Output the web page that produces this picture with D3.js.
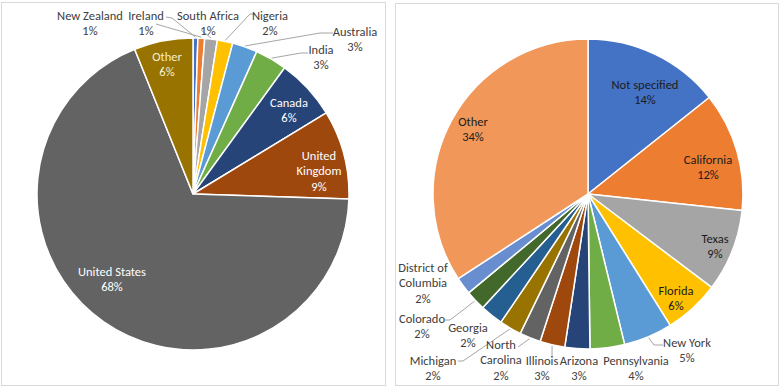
<!DOCTYPE html>
<html>
<head>
<meta charset="utf-8">
<script src="https://cdn.jsdelivr.net/npm/d3@7"></script>
<style>
  body { margin: 0; background: #fff; }
  svg { display: block; font-family: Carlito, Lato, "Open Sans", sans-serif; }
</style>
</head>
<body>
<svg id="chart" width="780" height="387"></svg>
<script>
//---DATA (share of respondents, %)
var country_names = ['New Zealand', 'Ireland', 'South Africa', 'Nigeria', 'Australia',
  'India', 'Canada', 'United\nKingdom', 'United States', 'Other'];
var country_values = [0.5, 0.7, 1.3, 1.6, 2.6, 3.3, 6.3, 9.2, 68.4, 6.1];

var state_names = ['Not specified', 'California', 'Texas', 'Florida', 'New York',
  'Pennsylvania', 'Arizona', 'Illinois', 'North\nCarolina', 'Michigan', 'Georgia',
  'Colorado', 'District of\nColumbia', 'Other'];
var state_values = [14.3, 12.4, 8.6, 5.8, 5.1, 3.6, 2.6, 2.6, 2.2, 2.3, 2.4, 2.1, 1.8, 34.2];

(function() {
  'use strict';

  var svg = d3.select('#chart');

  //---PALETTES
  var country_colors = ['#4472c4', '#ed7d31', '#a5a5a5', '#ffc000', '#5b9bd5',
    '#70ad47', '#264478', '#9e480e', '#636363', '#997300'];
  var state_colors = ['#4472c4', '#ed7d31', '#a5a5a5', '#ffc000', '#5b9bd5',
    '#70ad47', '#264478', '#9e480e', '#636363', '#997300', '#255e91',
    '#43682b', '#698ed0', '#f1975a'];

  var dark = '#404040',
    ink = '#1c1c1c',
    white = '#ffffff';

  //---LABEL LAYOUT (offsets from the pie centre; leader = points near label)
  var country_layout = [
    { dx: -103, dy: -171, fill: dark, leader: [[-27, -177], [-21, -176]] },
    { dx: -47, dy: -171, fill: dark, leader: [[-37, -170]] },
    { dx: 15, dy: -171, fill: dark, leader: [[8, -164]] },
    { dx: 77, dy: -171, fill: dark, leader: [[62, -180], [57, -180]] },
    { dx: 162, dy: -155, fill: dark, leader: [[140, -161], [127, -161]] },
    { dx: 128, dy: -137, fill: dark, leader: [[115, -141], [108, -141]] },
    { dx: 96, dy: -84, fill: white },
    { dx: 126, dy: -23, fill: white },
    { dx: -81, dy: 85, fill: white },
    { dx: -26, dy: -130, fill: '#f6eed2' }
  ];
  var state_layout = [
    { dx: 57, dy: -102, fill: ink },
    { dx: 120, dy: -27, fill: ink },
    { dx: 127, dy: 52, fill: ink },
    { dx: 88, dy: 104, fill: ink },
    { dx: 99, dy: 156, fill: dark, leader: [[75, 151], [66, 151]] },
    { dx: 48, dy: 174, fill: dark },
    { dx: -9, dy: 174, fill: dark },
    { dx: -46, dy: 174, fill: dark, leader: [[-36, 164]] },
    { dx: -87, dy: 166, fill: dark, leader: [[-70, 153]] },
    { dx: -155, dy: 174, fill: dark, leader: [[-130, 167], [-125, 167]] },
    { dx: -120, dy: 141, fill: dark },
    { dx: -166, dy: 132, fill: dark, leader: [[-143, 126], [-138, 126]] },
    { dx: -165, dy: 89, fill: dark },
    { dx: -115, dy: -65, fill: ink }
  ];

  //---PANEL FRAMES
  svg.append('rect')
    .attr('x', 1.5).attr('y', 2.5).attr('width', 384).attr('height', 383)
    .attr('fill', 'none').attr('stroke', '#d9d9d9');
  svg.append('rect')
    .attr('x', 395.5).attr('y', 3.5).attr('width', 383).attr('height', 382)
    .attr('fill', 'none').attr('stroke', '#d9d9d9');

  draw_pie(country_names, country_values, country_colors, country_layout, 193, 194, 156);
  draw_pie(state_names, state_values, state_colors, state_layout, 588, 194, 155);

  //-------------------------
  //  FUNCTIONS
  function draw_pie(names, values, colors, layout, cx, cy, radius) {
    var total = d3.sum(values);
    var data = names.map(function(n, i) { return { name: n, value: values[i] }; });

    var pie = d3.pie()
      .sort(null)
      .value(function(d) { return d.value; });
    var arc = d3.arc().innerRadius(0).outerRadius(radius);

    var g = svg.append('g')
      .attr('transform', 'translate(' + cx + ',' + cy + ')');

    var arcs = pie(data);

    g.selectAll('path.slice')
      .data(arcs)
      .enter()
      .append('path')
      .attr('class', 'slice')
      .attr('d', arc)
      .attr('fill', function(d, i) { return colors[i]; })
      .attr('stroke', '#fff')
      .attr('stroke-width', 1.5)
      .attr('stroke-linejoin', 'round');

    //--LEADER LINES
    var line = d3.line();
    arcs.forEach(function(d, i) {
      var lay = layout[i];
      if (!lay.leader) return;
      var mid = (d.startAngle + d.endAngle) / 2;
      var pts = lay.leader.slice();
      pts.push([Math.sin(mid) * (radius + 1), -Math.cos(mid) * (radius + 1)]);
      g.append('path')
        .attr('d', line(pts))
        .attr('fill', 'none')
        .attr('stroke', '#a6a6a6')
        .attr('stroke-width', 1);
    });

    //--LABELS
    var lh = 15.5;
    arcs.forEach(function(d, i) {
      var lay = layout[i];
      var lines = d.data.name.split('\n');
      lines.push(Math.round(d.data.value / total * 100) + '%');
      var y0 = lay.dy - (lines.length - 1) * lh / 2;
      var txt = g.append('text')
        .attr('text-anchor', 'middle')
        .attr('font-size', 12.5)
        .attr('fill', lay.fill);
      lines.forEach(function(t, k) {
        txt.append('tspan')
          .attr('x', lay.dx)
          .attr('y', y0 + k * lh)
          .attr('dy', '0.35em')
          .text(t);
      });
    });
  }
})();
</script>
</body>
</html>
